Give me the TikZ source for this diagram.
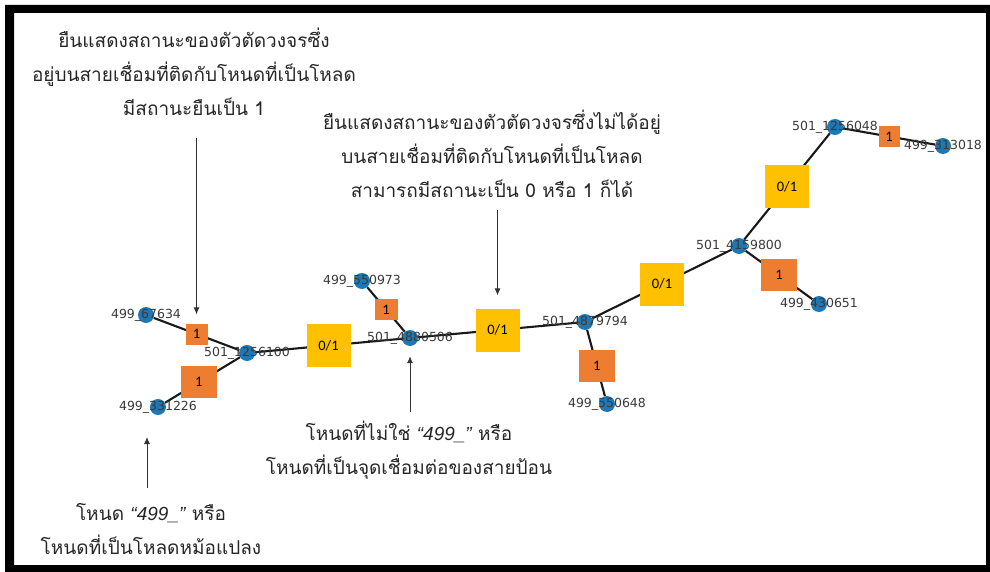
\documentclass[tikz,border=0pt]{standalone}
\usepackage{fontspec}
\setmainfont{Liberation Sans}
\newfontfamily\thaifont[Script=Thai]{Loma}
\newfontfamily\labelfont{DejaVu Sans}
\newfontfamily\boxfont{Carlito}
\newfontfamily\quotefont{Liberation Sans}
\usepackage{xcolor}
\usetikzlibrary{positioning,arrows.meta,backgrounds}
\definecolor{busblue}{HTML}{1F77B4}
\definecolor{onorange}{HTML}{ED7D31}
\definecolor{anyyellow}{HTML}{FFC000}
\definecolor{lblgray}{HTML}{3A3A3A}
\newcommand{\qnum}{{\quotefont\itshape “499\_”}}

\begin{document}
\begin{tikzpicture}[
    x=1pt, y=-1pt,
    bus/.style={%
      circle,
      fill=busblue,
      inner sep=0pt,
      minimum size=16pt,
    },
    lbl/.style={%
      font=\labelfont\fontsize{12.5}{13}\selectfont,
      text=lblgray,
      inner sep=0pt,
    },
    onsw/.style={%
      rectangle,
      fill=onorange,
      font=\boxfont\fontsize{14.5}{15}\selectfont,
      pos=0.5,
    },
    anysw/.style={%
      rectangle,
      fill=anyyellow,
      font=\boxfont\fontsize{14.5}{15}\selectfont,
      minimum width=44pt,
      minimum height=43pt,
      pos=0.5,
    },
    wire/.style={%
      draw=black!90,
      line width=2.1pt,
    },
    note/.style={%
      align=center,
      font=\thaifont\fontsize{19}{34}\selectfont,
      text=black!85,
      inner sep=0pt,
    },
    pointer/.style={%
      draw=black!80,
      line width=0.9pt,
      -{Latex[length=7pt,width=6pt]},
    },
  ]

    % frame
    \useasboundingbox (0,0) rectangle (990,572);
    \fill [black, even odd rule] (5,5) rectangle (990,572) (14,13) rectangle (986,565);

    % buses
    \node [bus, label={[lbl]center:499\_67634}] (n67634) at (146,315) {};
    \node [bus, label={[lbl]center:501\_1256100}] (n1256100) at (247,353) {};
    \node [bus, label={[lbl]center:499\_331226}] (n331226) at (158,407) {};
    \node [bus, label={[lbl]center:499\_550973}] (n550973) at (362,281) {};
    \node [bus, label={[lbl]center:501\_4880506}] (n4880506) at (410,338) {};
    \node [bus, label={[lbl]center:501\_4879794}] (n4879794) at (585,322) {};
    \node [bus, label={[lbl]center:499\_550648}] (n550648) at (607,404) {};
    \node [bus, label={[lbl]center:501\_4159800}] (n4159800) at (739,246) {};
    \node [bus, label={[lbl]center:499\_430651}] (n430651) at (819,304) {};
    \node [bus, label={[lbl]center:501\_1256048}] (n1256048) at (835,127) {};
    \node [bus, label={[lbl]center:499\_313018}] (n313018) at (943,146) {};

    % lines with switches
    \begin{scope}[on background layer]
    \draw [wire] (n67634) -- (n1256100) node [onsw, minimum width=22pt, minimum height=21pt] (swA) {1};
    \draw [wire] (n331226) -- (n1256100) node [onsw, pos=0.45, minimum width=36pt, minimum height=32pt] (swB) {1};
    \draw [wire] (n1256100) -- (n4880506) node [anysw] (swC) {0/1};
    \draw [wire] (n550973) -- (n4880506) node [onsw, minimum width=23pt, minimum height=21pt] (swD) {1};
    \draw [wire] (n4880506) -- (n4879794) node [anysw] (swE) {0/1};
    \draw [wire] (n4879794) -- (n550648) node [onsw, pos=0.55, minimum width=36pt, minimum height=32pt] (swF) {1};
    \draw [wire] (n4879794) -- (n4159800) node [anysw] (swG) {0/1};
    \draw [wire] (n4159800) -- (n430651) node [onsw, minimum width=36pt, minimum height=32pt] (swH) {1};
    \draw [wire] (n4159800) -- (n1256048) node [anysw] (swI) {0/1};
    \draw [wire] (n1256048) -- (n313018) node [onsw, minimum width=21pt, minimum height=21pt] (swJ) {1};
    \end{scope}

    % notes
    \node [note] (noteA) at (194,72) {ยืนแสดงสถานะของตัวตัดวงจรซึ่ง\\อยู่บนสายเชื่อมที่ติดกับโหนดที่เป็นโหลด\\มีสถานะยืนเป็น 1};
    \node [note] (noteB) at (492,154) {ยืนแสดงสถานะของตัวตัดวงจรซึ่งไม่ได้อยู่\\บนสายเชื่อมที่ติดกับโหนดที่เป็นโหลด\\สามารถมีสถานะเป็น 0 หรือ 1 ก็ได้};
    \node [note] (noteC) at (409,450) {โหนดที่ไม่ใช่ \qnum{} หรือ\\โหนดที่เป็นจุดเชื่อมต่อของสายป้อน};
    \node [note] (noteD) at (151,529) {โหนด \qnum{} หรือ\\โหนดที่เป็นโหลดหม้อแปลง};

    % pointers
    \coordinate (tailA) at (0,138);
    \coordinate (tailB) at (0,210);
    \coordinate (tailC) at (0,412);
    \coordinate (tailD) at (147,488);
    \coordinate (headD) at (147,437);
    \draw [pointer, shorten >=8pt] (swA.north |- tailA) -- (swA.north);
    \draw [pointer, shorten >=12pt] (swE.north |- tailB) -- (swE.north);
    \draw [pointer, shorten >=10pt] (n4880506.south |- tailC) -- (n4880506.south);
    \draw [pointer] (tailD) -- (headD);
\end{tikzpicture}
\end{document}
